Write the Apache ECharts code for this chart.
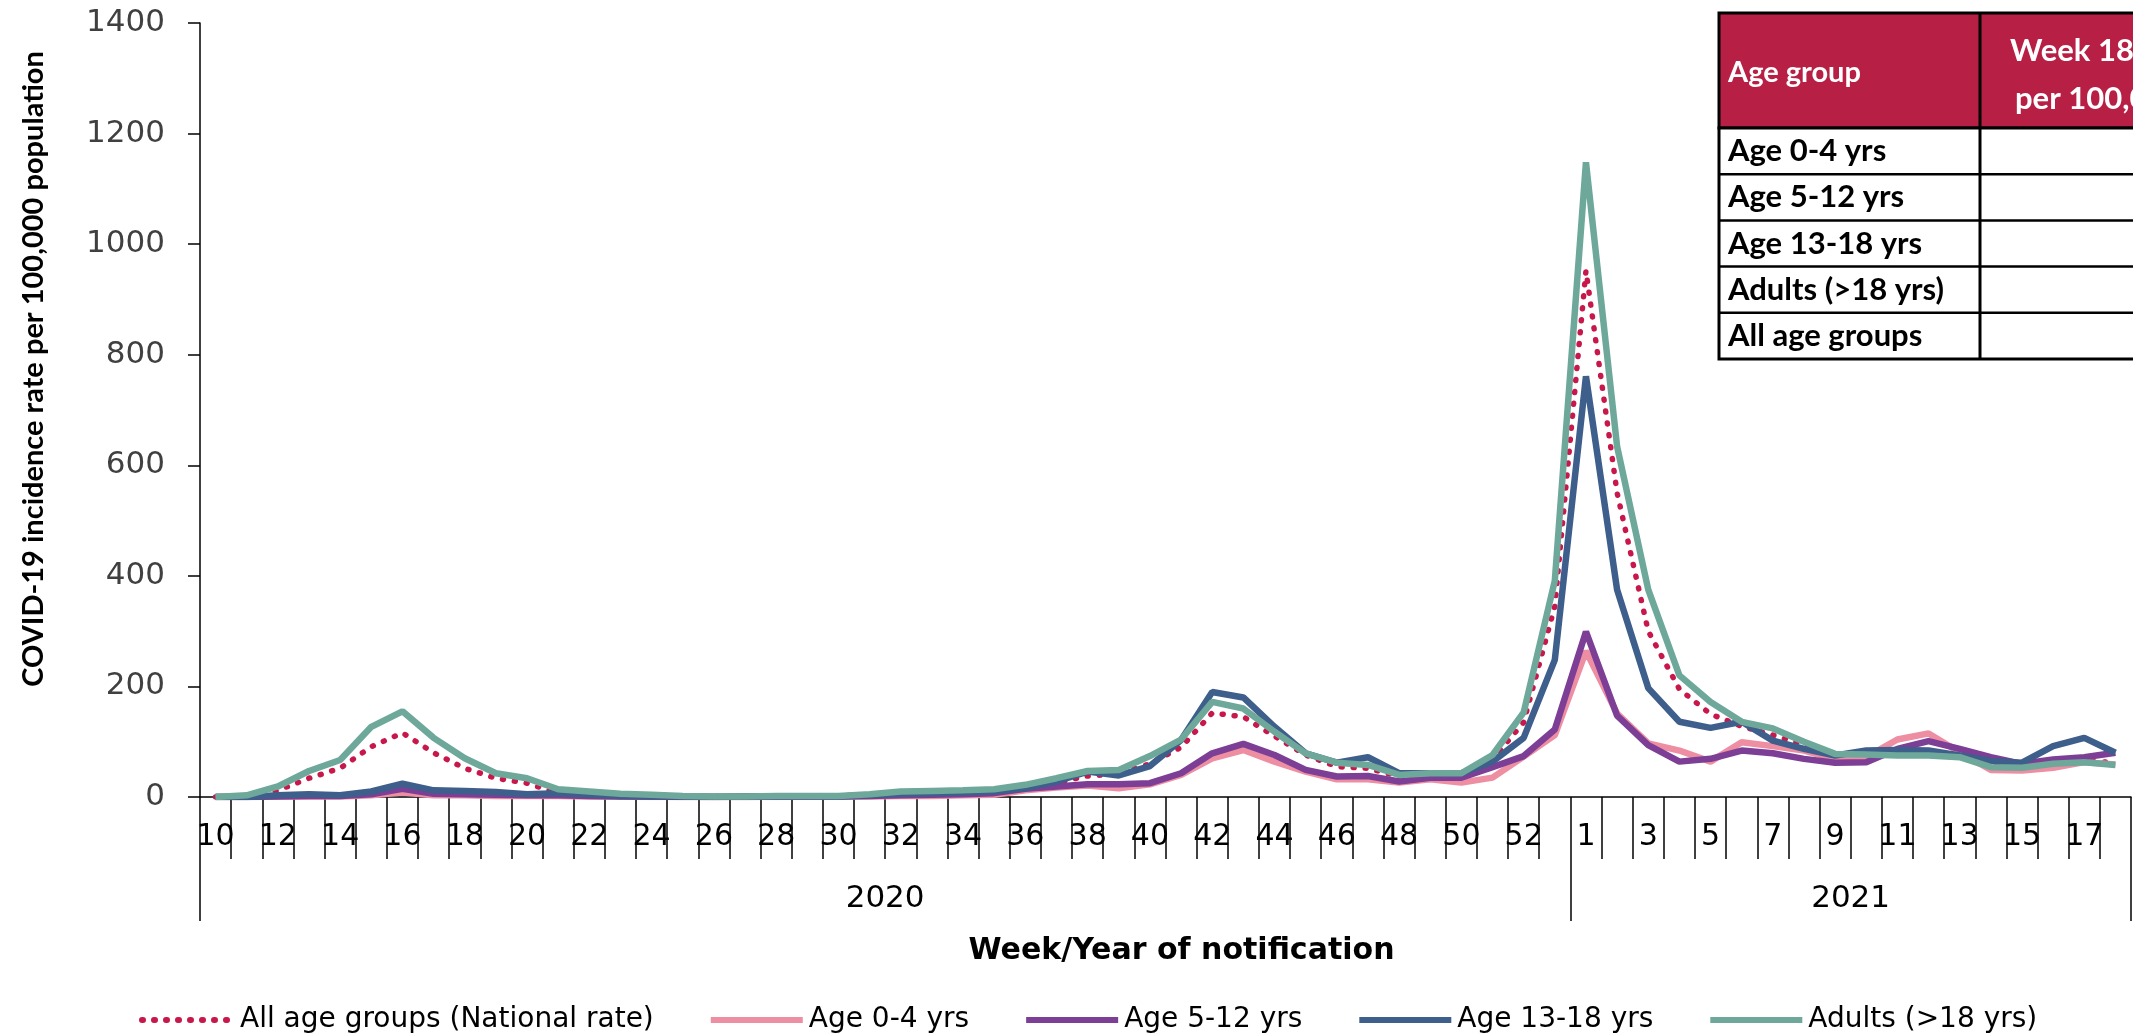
<!DOCTYPE html>
<html><head><meta charset="utf-8">
<script src="https://cdn.jsdelivr.net/npm/echarts@6/dist/echarts.min.js"></script>
<style>html,body{margin:0;padding:0;background:#fff}#c{width:2133px;height:1036px}</style>
</head><body><div id="c"></div>
<script>
// Week tick labels
const weeks2020 = ['10','11','12','13','14','15','16','17','18','19','20','21','22','23','24','25','26','27','28','29','30','31','32','33','34','35','36','37','38','39','40','41','42','43','44','45','46','47','48','49','50','51','52','53'];
const weeks2021 = ['1','2','3','4','5','6','7','8','9','10','11','12','13','14','15','16','17','18'];
const years = ['2020','2021'];

// Incidence rates per 100,000
const national2020 = [0,2,12,34,52,91,116,80,52,34,25,7,5,4,2,1,1,1,1,2,2,4,8,9,10,12,17,26,38,42,60,90,152,145,110,76,55,52,37,38,38,68,135,345];
const national2021 = [952,550,300,195,150,128,112,95,78,75,78,80,76,60,55,60,66,62];
const age0to4_2020 = [0,0,1,1,1,3,8,3,3,2,2,2,1,1,0,0,0,0,0,1,1,1,2,2,3,4,12,17,21,16,23,40,70,85,64,46,32,32,26,32,26,35,73,112];
const age0to4_2021 = [264,151,97,84,64,99,92,84,69,72,104,115,81,49,48,53,63,59];
const age5to12_2020 = [0,0,1,2,2,5,15,6,5,4,3,3,2,1,1,0,0,0,1,1,1,2,3,4,5,7,15,19,23,23,25,43,79,96,76,49,37,38,28,35,35,54,74,122];
const age5to12_2021 = [299,147,94,64,69,84,79,69,62,63,87,101,87,72,60,68,72,80];
const age13to18_2020 = [0,0,3,5,3,10,24,12,11,9,5,7,4,2,1,1,0,1,1,1,1,3,6,7,8,10,16,28,46,39,56,103,190,180,127,79,62,72,43,43,43,64,107,248];
const age13to18_2021 = [761,375,197,136,125,136,102,87,75,84,85,84,75,65,62,92,107,80];
const adults2020 = [0,3,19,47,67,127,155,107,70,43,34,14,10,6,4,2,1,1,2,2,2,5,10,11,12,14,22,34,47,49,74,104,172,160,118,79,62,58,40,43,43,76,153,391];
const adults2021 = [1148,634,375,220,172,136,124,100,78,77,75,75,72,54,53,60,63,58];

const seriesNames = ['All age groups (National rate)','Age 0-4 yrs','Age 5-12 yrs','Age 13-18 yrs','Adults (>18 yrs)'];
const tableRows = ['Age 0-4 yrs','Age 5-12 yrs','Age 13-18 yrs','Adults (>18 yrs)','All age groups'];

const categories = weeks2020.concat(weeks2021);
const n2020 = weeks2020.length, nAll = categories.length;
const yearLabelIdx = [Math.floor(n2020/2) - 1, Math.floor((n2020 + nAll)/2) - 1];

const colors = ['#C8174A','#EE8EA3','#7C3F95','#3E5E8B','#6EA89A'];
const dataSets = [
  national2020.concat(national2021),
  age0to4_2020.concat(age0to4_2021),
  age5to12_2020.concat(age5to12_2021),
  age13to18_2020.concat(age13to18_2021),
  adults2020.concat(adults2021)
];

const chart = echarts.init(document.getElementById('c'), null, {renderer:'canvas'});
const series = dataSets.map((d, k) => ({
  name: seriesNames[k], type:'line', data:d, symbol:'none', showSymbol:false, xAxisIndex:0,
  lineStyle: k === 0 ? {color:colors[k], width:5.5, type:[1,11], cap:'round'} : {color:colors[k], width:6.5},
  itemStyle:{color:colors[k]}, z: 2 + k
}));

// table graphic (layout only)
const tx = 1719, ty = 13, hh = 115, rh = 46.2, colX = 1980;
const g = [];
g.push({type:'rect', shape:{x:tx, y:ty, width:520, height:hh}, style:{fill:'#B71F45', stroke:'#000', lineWidth:3}, z:100});
g.push({type:'rect', shape:{x:tx, y:ty+hh, width:520, height:rh*tableRows.length}, style:{fill:'#fff', stroke:'#000', lineWidth:3}, z:100});
for (let r = 1; r < tableRows.length; r++) {
  g.push({type:'line', shape:{x1:tx, y1:ty+hh+r*rh, x2:tx+520, y2:ty+hh+r*rh}, style:{stroke:'#000', lineWidth:2.5}, z:101});
}
g.push({type:'line', shape:{x1:colX, y1:ty, x2:colX, y2:ty+hh+rh*tableRows.length}, style:{stroke:'#000', lineWidth:3}, z:101});
g.push({type:'text', x:tx+9, y:ty+hh/2+2, style:{text:'Age group', fill:'#fff', font:'bold 29px Lato', textVerticalAlign:'middle'}, z:102});
g.push({type:'text', x:2010, y:ty+38, style:{text:'Week 18 rate', fill:'#fff', font:'bold 31px Lato', textVerticalAlign:'middle'}, z:102});
g.push({type:'text', x:2015, y:ty+86, style:{text:'per 100,000', fill:'#fff', font:'bold 31px Lato', textVerticalAlign:'middle'}, z:102});
tableRows.forEach((t, r) => {
  g.push({type:'text', x:tx+9, y:ty+hh+(r+0.5)*rh, style:{text:t, fill:'#000', font:'bold 31px Lato', textVerticalAlign:'middle'}, z:102});
});

chart.setOption({
  animation:false,
  backgroundColor:'#fff',
  color: colors,
  grid:{left:200, right:2, top:23, bottom:239, containLabel:false},
  legend:{
    data: seriesNames, left:134, top:1001, itemWidth:92, itemHeight:14, itemGap:54,
    itemStyle:{opacity:0},
    lineStyle:{width:6},
    textStyle:{fontSize:28, fontFamily:'DejaVu Sans', color:'#000', padding:[0,0,0,1]}
  },
  xAxis:[
    {type:'category', data:categories, position:'bottom', boundaryGap:true,
     axisLine:{show:true, lineStyle:{color:'#000', width:1.5}},
     axisTick:{show:true, interval:0, length:62, lineStyle:{color:'#000', width:1.5}},
     axisLabel:{interval:1, margin:25, color:'#000', fontSize:30, fontFamily:'DejaVu Sans'}
    },
    {type:'category', data:categories, position:'bottom', boundaryGap:true,
     axisLine:{show:false},
     axisTick:{show:true, interval:(i)=> i === 0 || i === n2020, length:124, lineStyle:{color:'#000', width:1.5}},
     axisLabel:{show:true, interval:(i)=> yearLabelIdx.indexOf(i) >= 0,
       formatter:(v, i)=> i < n2020 ? years[0] : years[1],
       margin:86, color:'#000', fontSize:31, fontFamily:'DejaVu Sans', padding:[0,0,0,31]},
     name:'Week/Year of notification', nameLocation:'middle', nameGap:139,
     nameTextStyle:{fontFamily:'DejaVu Sans', fontWeight:'bold', fontSize:30, color:'#000', padding:[0,0,0,32]}
    }
  ],
  yAxis:{
    type:'value', min:0, max:1400, interval:200,
    axisLine:{show:true, lineStyle:{color:'#000', width:1.5}},
    axisTick:{show:true, length:12, lineStyle:{color:'#000', width:1.5}},
    splitLine:{show:false},
    axisLabel:{margin:35, color:'#404040', fontSize:31, fontFamily:'DejaVu Sans', formatter:(v)=> String(v)},
    name:'COVID-19 incidence rate per 100,000 population', nameLocation:'middle', nameGap:152,
    nameTextStyle:{fontFamily:'Lato', fontWeight:'bold', fontSize:29, color:'#000', padding:[0,0,0,82]}
  },
  series: series,
  graphic: g
});
</script></body></html>
